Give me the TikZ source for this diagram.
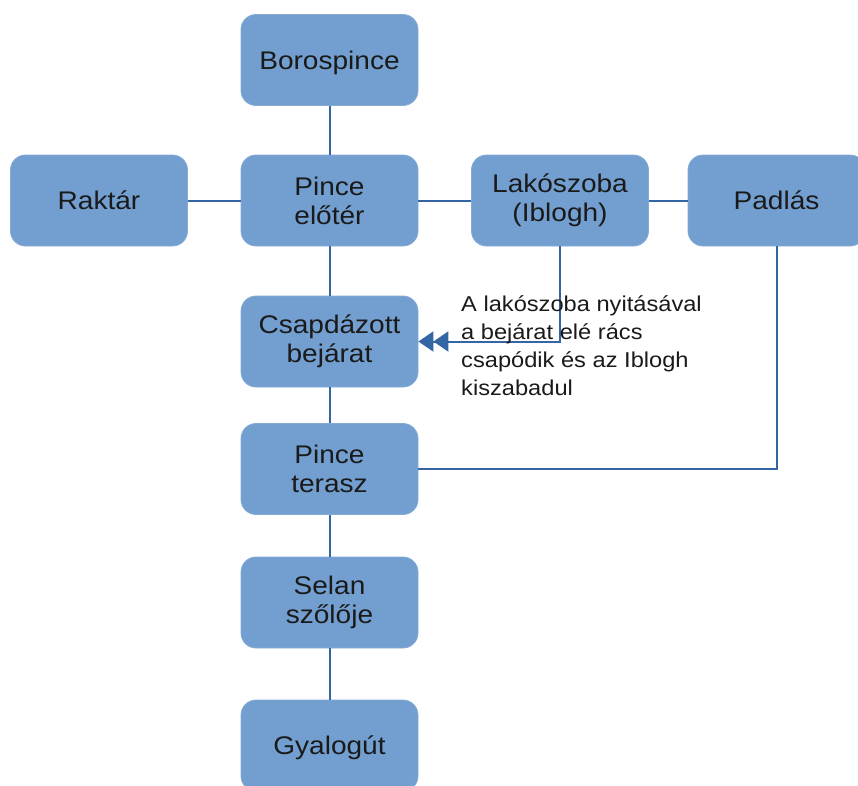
\documentclass[tikz,border=0pt]{standalone}
\usepackage{fontspec}
\setmainfont{Liberation Sans}[FakeStretch=1.1]
\usetikzlibrary{arrows.meta}
\definecolor{roomfill}{HTML}{729FCF}
\definecolor{roomedge}{HTML}{84AAD6}
\definecolor{linkblue}{HTML}{3465A4}
\definecolor{inktext}{HTML}{1A1A1A}
\tikzset{
  room/.style={rectangle, rounded corners=15pt, fill=roomfill, draw=roomedge,
    line width=0.8pt, minimum width=177pt, minimum height=91pt, inner sep=0pt,
    align=center, text=inktext,
    font=\fontsize{25.5}{29}\selectfont},
  oneline/.style={text depth=0pt},
  link/.style={draw=linkblue, line width=2pt},
  note/.style={anchor=base west, align=left, inner sep=0pt, text=inktext,
    font=\fontsize{21.5}{28}\selectfont}
}
\begin{document}
\begin{tikzpicture}[x=1pt,y=-1pt]
\useasboundingbox (0,0) rectangle (858,785);
% rooms
\node[room, oneline] (boro) at (329.5,60) {Borospince};
\node[room] (rakt) at (99,200.5) {Raktár};
\node[room] (elot) at (329.5,200.5) {Pince\\előtér};
\node[room] (lako) at (560,200.5) {Lakószoba\\(Iblogh)};
\node[room] (padl) at (776.5,200.5) {Padlás};
\node[room] (csap) at (329.5,341.5) {Csapdázott\\bejárat};
\node[room] (tera) at (329.5,469) {Pince\\terasz};
\node[room] (selan) at (329.5,602.5) {Selan\\szőlője};
\node[room, oneline] (gyal) at (329.5,745.5) {Gyalogút};
% passages
\draw[link] (boro) -- (elot);
\draw[link] (rakt) -- (elot);
\draw[link] (elot) -- (lako);
\draw[link] (lako) -- (padl);
\draw[link] (elot) -- (csap);
\draw[link] (csap) -- (tera);
\draw[link] (tera) -- (selan);
\draw[link] (selan) -- (gyal);
\draw[link, -{Triangle[length=15pt,width=20pt]Triangle[length=15pt,width=20pt]}] (lako.south) |- (csap.east);
\draw[link] (padl.south) |- (tera.east);
% trap note (anchored at the baseline of its last line)
\node[note] (trap) at (461,395) {A lakószoba nyitásával\\a bejárat elé rács\\csapódik és az Iblogh\\kiszabadul};
\end{tikzpicture}
\end{document}
